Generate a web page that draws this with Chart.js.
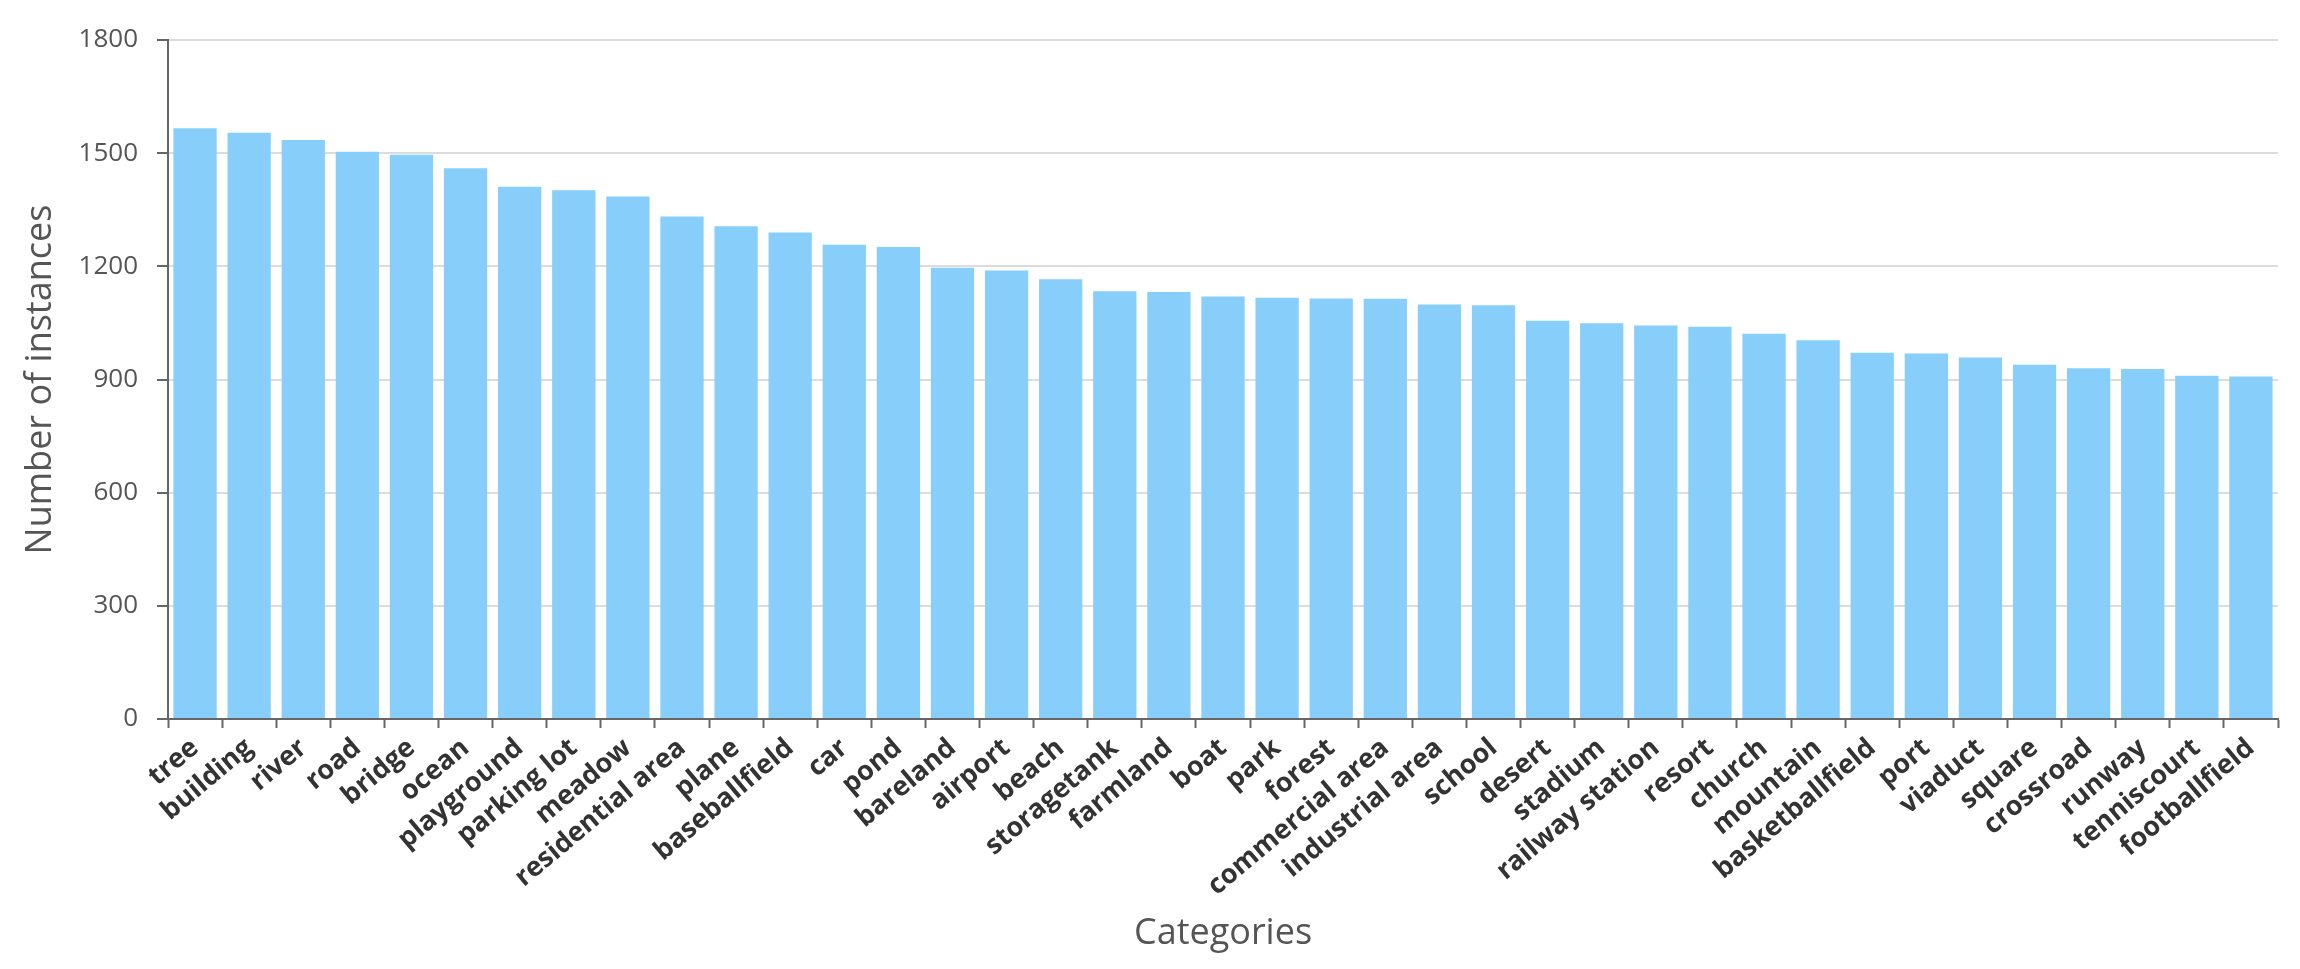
<!DOCTYPE html>
<html>
<head>
<meta charset="utf-8">
<title>Number of instances per category</title>
<script src="https://cdn.jsdelivr.net/npm/chart.js@4/dist/chart.umd.min.js"></script>
<style>
  html, body { margin: 0; padding: 0; background: #fff; }
  #wrap { width: 2300px; height: 969px; }
</style>
</head>
<body>
<div id="wrap"><canvas id="barChart" width="2300" height="969"></canvas></div>
<script>
// category names, in the order they appear on the x axis
const categories = [
  'tree', 'building', 'river', 'road', 'bridge', 'ocean', 'playground', 'parking lot',
  'meadow', 'residential area', 'plane', 'baseballfield', 'car', 'pond', 'bareland',
  'airport', 'beach', 'storagetank', 'farmland', 'boat', 'park', 'forest',
  'commercial area', 'industrial area', 'school', 'desert', 'stadium', 'railway station',
  'resort', 'church', 'mountain', 'basketballfield', 'port', 'viaduct', 'square',
  'crossroad', 'runway', 'tenniscourt', 'footballfield'
];

// instance counts
const instanceCounts = [
  1566, 1554, 1535, 1504, 1496, 1460, 1411, 1402,
  1385, 1332, 1306, 1290, 1257, 1251, 1196,
  1189, 1166, 1134, 1132, 1120, 1117, 1115,
  1114, 1099, 1097, 1056, 1049, 1043,
  1040, 1021, 1004, 971, 969, 958, 939,
  930, 928, 910, 908
];

const yTicks = [0, 300, 600, 900, 1200, 1500, 1800];

const FONT = "'Open Sans', 'Noto Sans', sans-serif";

const ctx = document.getElementById('barChart').getContext('2d');
new Chart(ctx, {
  type: 'bar',
  data: {
    labels: categories,
    datasets: [{
      label: 'Number of instances',
      data: instanceCounts,
      backgroundColor: '#87cefa',
      borderWidth: 0,
      barPercentage: 0.8,
      categoryPercentage: 1.0
    }]
  },
  options: {
    responsive: false,
    animation: false,
    layout: { padding: { top: 40, right: 22, bottom: 0, left: 0 } },
    plugins: {
      legend: { display: false },
      tooltip: { enabled: false }
    },
    scales: {
      x: {
        offset: true,
        grid: {
          offset: true,
          drawOnChartArea: false,
          drawTicks: true,
          tickLength: 9,
          tickColor: '#666',
          tickWidth: 2
        },
        border: { display: true, color: '#666', width: 2 },
        ticks: {
          autoSkip: false,
          maxRotation: 40,
          minRotation: 40,
          padding: 4,
          color: '#333',
          font: { family: FONT, size: 27, weight: 'bold' }
        },
        title: {
          display: true,
          text: 'Categories',
          color: '#555',
          padding: { top: 0, bottom: 14 },
          font: { family: FONT, size: 36 }
        },
        afterFit: (scale) => { scale.height = 250; }
      },
      y: {
        min: 0,
        max: 1800,
        afterBuildTicks: (scale) => { scale.ticks = yTicks.map(v => ({ value: v })); },
        grid: {
          color: '#dcdcdc',
          lineWidth: 2,
          tickLength: 11,
          tickColor: '#666',
          tickWidth: 2
        },
        border: { display: true, color: '#666', width: 2 },
        ticks: {
          padding: 19,
          color: '#555',
          font: { family: FONT, size: 26 },
          callback: (v) => String(v)
        },
        title: {
          display: true,
          text: 'Number of instances',
          color: '#555',
          padding: { top: 19, bottom: 0 },
          font: { family: FONT, size: 36 }
        },
        afterFit: (scale) => { scale.width = 168; }
      }
    }
  }
});
</script>
</body>
</html>
